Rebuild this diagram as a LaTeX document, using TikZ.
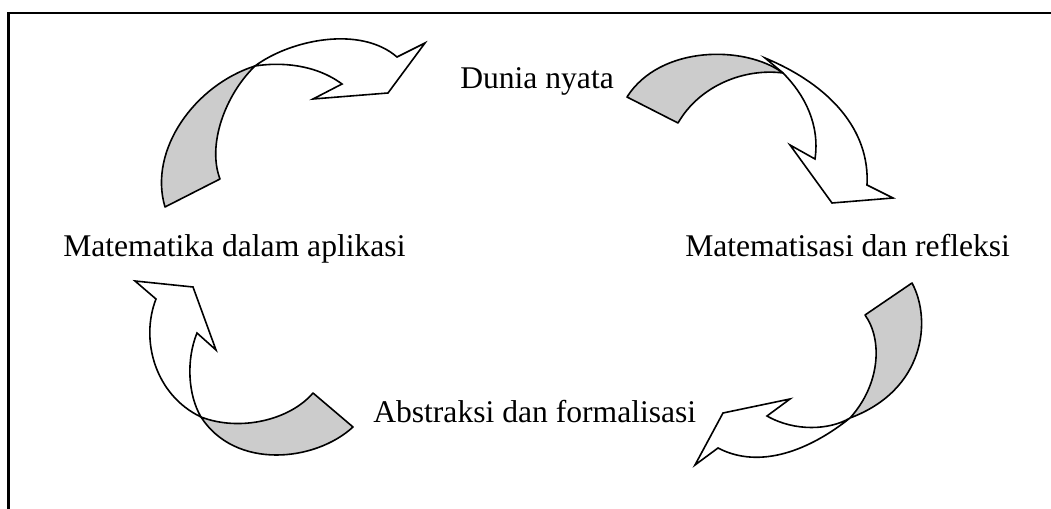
\documentclass[tikz,border=0pt]{standalone}
\usepackage{fontspec}
\setmainfont{Liberation Serif}
\definecolor{facegray}{RGB}{204,204,204}
\begin{document}
\begin{tikzpicture}[x=0.75pt,y=-0.75pt,
  lbl/.style={anchor=base west,inner sep=0pt,font=\fontsize{23.7}{28}\selectfont},
  backface/.style={fill=facegray,draw=black,line width=1.2pt,line join=round},
  frontface/.style={fill=white,draw=black,line width=1.2pt,line join=miter},
  frameline/.style={draw=black,line width=1.6pt}]
\useasboundingbox (0,0) rectangle (1051,509);
\fill[white] (0,0) rectangle (1051,509);
\draw[frameline] (8.5,509) -- (8.5,13) -- (1051,13);

% arrow 1 (top left)
\path[backface] (165,207) -- (220,179)
  .. controls (207,145) and (225,95) .. (255,66)
  .. controls (195,85) and (148,150) .. (165,207) -- cycle;
\path[frontface] (255,66)
  .. controls (290,40) and (360,25) .. (397,57)
  -- (425,43) -- (388,93) -- (313,99) -- (342,84)
  .. controls (315,64) and (280,62) .. (255,66) -- cycle;

% arrow 2 (top right)
\path[frontface] (765,58)
  .. controls (830,85) and (870,130) .. (867,185)
  -- (893,198) -- (832,203) -- (790,145) -- (815,159)
  .. controls (820,125) and (805,95) .. (783,73) -- cycle;
\path[backface] (627,97) -- (678,123)
  .. controls (700,85) and (745,68) .. (783,73)
  .. controls (745,45) and (660,45) .. (627,97) -- cycle;

% arrow 3 (bottom left)
\path[frontface] (135,281) -- (193,287) -- (216,350) -- (197,333)
  .. controls (186,360) and (188,395) .. (201,417)
  .. controls (155,395) and (140,340) .. (156,299) -- cycle;
\path[backface] (201,417)
  .. controls (240,432) and (290,420) .. (313,393)
  -- (353,427)
  .. controls (315,462) and (235,470) .. (201,417) -- cycle;

% arrow 4 (bottom right)
\path[backface] (865,315) -- (912,283)
  .. controls (932,320) and (925,390) .. (850,418)
  .. controls (880,385) and (883,340) .. (865,315) -- cycle;
\path[frontface] (850,418)
  .. controls (810,450) and (760,470) .. (718,448)
  -- (695,465) -- (723,413) -- (790,399) -- (767,416)
  .. controls (795,432) and (830,430) .. (850,418) -- cycle;

\node[lbl] (dunia) at (460,89) {Dunia nyata};
\node[lbl] (aplikasi) at (63,257) {Matematika dalam aplikasi};
\node[lbl] (refleksi) at (685,257) {Matematisasi dan refleksi};
\node[lbl] (abstraksi) at (373,423) {Abstraksi dan formalisasi};
\end{tikzpicture}
\end{document}
